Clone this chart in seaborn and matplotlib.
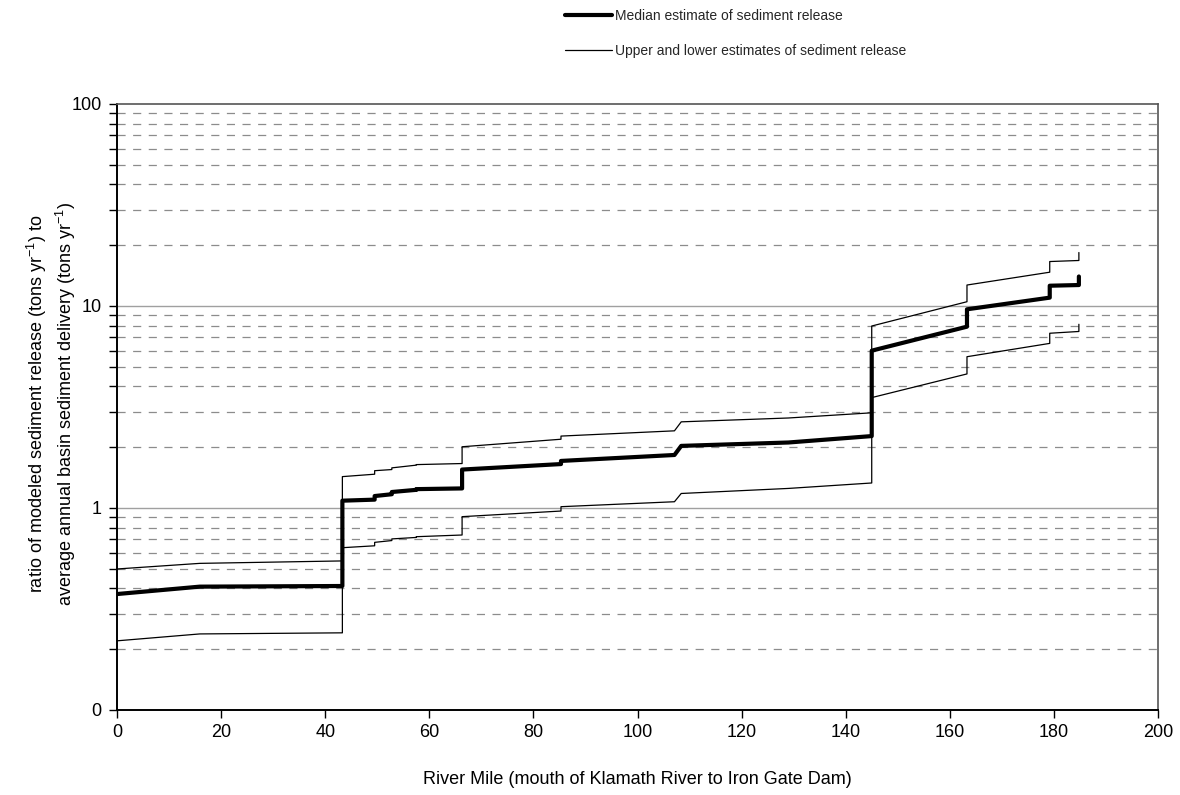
import numpy as np
import pandas as pd
import matplotlib
matplotlib.use("Agg")
import matplotlib.pyplot as plt
import seaborn as sns
from matplotlib.ticker import FixedLocator, NullFormatter, FixedFormatter
from matplotlib.lines import Line2D

# ---- data ----
river_mile = [0.0, 15.9, 43.3, 43.3, 49.5, 49.5, 52.8, 52.8, 57.5, 57.5, 66.3, 66.3,
              85.3, 85.3, 107.1, 108.4, 129.0, 145.0, 145.0, 163.3, 163.3, 179.2, 179.2,
              184.8, 184.8]
median_est = [0.375, 0.408, 0.411, 1.087, 1.10, 1.146, 1.17, 1.20, 1.23, 1.24, 1.25, 1.55,
              1.65, 1.71, 1.83, 2.03, 2.11, 2.27, 6.01, 7.9, 9.63, 11.0, 12.6,
              12.7, 14.0]
upper_est = [0.499, 0.532, 0.547, 1.43, 1.47, 1.53, 1.55, 1.58, 1.63, 1.64, 1.66, 2.01,
             2.19, 2.27, 2.41, 2.67, 2.79, 2.96, 7.96, 10.5, 12.7, 14.7, 16.6,
             16.8, 18.4]
lower_est = [0.220, 0.238, 0.241, 0.636, 0.65, 0.676, 0.69, 0.703, 0.715, 0.721, 0.735, 0.906,
             0.966, 1.015, 1.074, 1.18, 1.25, 1.33, 3.52, 4.61, 5.61, 6.53, 7.33,
             7.48, 8.12]

x_ticks = [0, 20, 40, 60, 80, 100, 120, 140, 160, 180, 200]
y_major = [0.1, 1, 10, 100]
y_major_labels = ["0", "1", "10", "100"]

legend_labels = ["Median estimate of sediment release",
                 "Upper and lower estimates of sediment release"]
x_label = "River Mile (mouth of Klamath River to Iron Gate Dam)"
y_label = ("ratio of modeled sediment release (tons yr$^{-1}$) to\n"
           "average annual basin sediment delivery (tons yr$^{-1}$)")

# ---- style ----
sns.set_theme(style="white")
plt.rcParams["font.family"] = ["Liberation Sans", "DejaVu Sans"]
plt.rcParams["mathtext.fontset"] = "custom"
plt.rcParams["mathtext.rm"] = "Liberation Sans"
plt.rcParams["mathtext.it"] = "Liberation Sans"
plt.rcParams["mathtext.default"] = "regular"

fig = plt.figure(figsize=(11.8, 7.95), dpi=100)
ax = fig.add_axes([117 / 1180, 1 - 710 / 795, (1158 - 117) / 1180, (710 - 104) / 795])

df = pd.DataFrame({"mile": river_mile, "median": median_est,
                   "upper": upper_est, "lower": lower_est})

ax.set_yscale("log")
ax.set_xlim(0, 200)
ax.set_ylim(0.1, 100)

# grid lines
minor_vals = [m * d for d in (0.1, 1, 10) for m in range(2, 10)]
for v in minor_vals:
    ax.axhline(v, color="#8c8c8c", lw=0.9, ls=(0, (6.5, 6)), zorder=1)
for v in [1, 10]:
    ax.axhline(v, color="#a0a0a0", lw=1.0, zorder=1)

sns.lineplot(data=df, x="mile", y="upper", sort=False, estimator=None,
             color="black", lw=0.9, ax=ax, zorder=3)
sns.lineplot(data=df, x="mile", y="lower", sort=False, estimator=None,
             color="black", lw=0.9, ax=ax, zorder=3)
sns.lineplot(data=df, x="mile", y="median", sort=False, estimator=None,
             color="black", lw=3.0, ax=ax, zorder=4)

# ticks
ax.yaxis.set_major_locator(FixedLocator(y_major))
ax.yaxis.set_major_formatter(FixedFormatter(y_major_labels))
ax.yaxis.set_minor_locator(FixedLocator(minor_vals))
ax.yaxis.set_minor_formatter(NullFormatter())
ax.set_xticks(x_ticks)
ax.set_xticklabels([str(t) for t in x_ticks])
ax.tick_params(axis="both", which="major", direction="out", length=6, width=1,
               color="black", labelsize=13, pad=5, left=True, bottom=True,
               labelcolor="black")
ax.tick_params(axis="y", which="minor", direction="out", length=6, width=1,
               color="black", left=True)
ax.tick_params(axis="x", pad=4)

for s in ["left", "bottom"]:
    ax.spines[s].set_color("black")
    ax.spines[s].set_linewidth(1.4)
for s in ["top", "right"]:
    ax.spines[s].set_color("#555555")
    ax.spines[s].set_linewidth(1.2)

ax.set_xlabel(x_label, fontsize=13, labelpad=22, color="black")
ax.set_ylabel(y_label, fontsize=13, linespacing=1.3, color="black")
ax.yaxis.set_label_coords(-0.037, 0.505)

# legend
handles = [Line2D([], [], color="black", lw=3.0),
           Line2D([], [], color="black", lw=0.9)]
fig.legend(handles, legend_labels, loc="upper left",
           bbox_to_anchor=(565 / 1180, 1 - 9 / 795), frameon=False,
           fontsize=10, handlelength=3.4, handletextpad=0.2, labelspacing=1.5,
           borderpad=0, borderaxespad=0)

fig.savefig("out.png", dpi=100)
